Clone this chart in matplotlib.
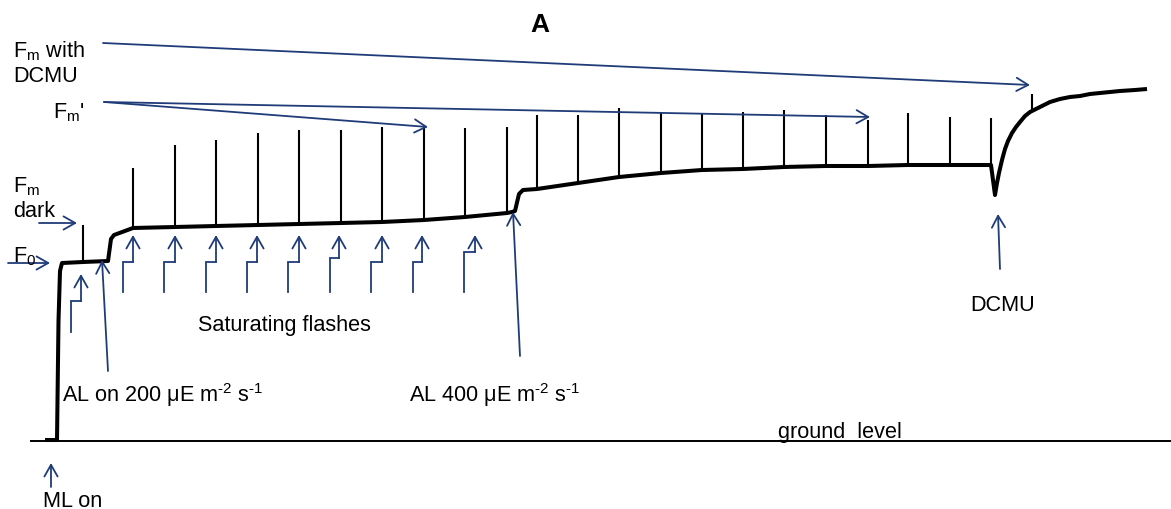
import matplotlib
matplotlib.use("Agg")
import matplotlib.pyplot as plt

plt.rcParams['font.family'] = ['Liberation Sans', 'DejaVu Sans']
plt.rcParams['mathtext.fontset'] = 'custom'
plt.rcParams['mathtext.rm'] = 'Liberation Sans'
plt.rcParams['mathtext.it'] = 'Liberation Sans:italic'
plt.rcParams['mathtext.bf'] = 'Liberation Sans:bold'
plt.rcParams['mathtext.default'] = 'regular'

# ---------------- data (time in arbitrary units, fluorescence in relative units) -------------
# baseline (non-spike) breakpoints of the fluorescence trace
base_t = [45, 57, 58.5, 60, 62, 108, 111, 114, 512, 515, 519, 523,
          995, 997, 999, 1002, 1005, 1008, 1012, 1016, 1020, 1025, 1030,
          1040, 1050, 1060, 1070, 1080, 1090, 1100, 1110, 1120, 1135, 1147]
base_f = [1, 1, 120, 170, 178, 180, 202, 206, 229, 230, 247, 251,
          246, 258, 268, 281, 292, 300, 308, 314, 319, 325, 329,
          334, 339, 342, 344, 345, 347, 348, 349, 350, 351, 352]

# saturating-flash spikes: time, fluorescence at foot, fluorescence at peak
spike_t = [83, 133, 175, 216, 258, 299, 341, 382, 424, 465, 507,
           537, 578, 619, 661, 702, 743, 784, 826, 868, 908, 950, 991, 1032]
spike_base = [179, 213, 214, 215, 216, 217, 218, 219, 221, 224, 228,
              252, 258, 264, 268, 271, 272, 274, 275, 275, 276, 276, 276, 330]
spike_peak = [216, 273, 296, 301, 308, 311, 311, 314, 314, 313, 314,
              326, 326, 333, 329, 328, 329, 331, 326, 321, 328, 324, 323, 347]

# flash marker arrows: bottom x, tip x, bottom y, step y, tip y
flash_x0 = [71, 123, 164, 206, 247, 288, 330, 371, 413, 464]
flash_x1 = [81, 133, 175, 216, 257, 299, 339, 382, 422, 475]
flash_y0 = [109, 149, 149, 149, 149, 149, 149, 149, 149, 149]
flash_ys = [140, 179, 179, 179, 179, 179, 183, 179, 179, 189]
flash_y1 = [167, 206, 206, 206, 206, 206, 206, 206, 206, 206]

NAVY = '#203c78'
FS = 15.6

# ---------------- build trace (baseline through breakpoints and spike feet) ----------------
pts = list(zip(base_t, base_f)) + list(zip(spike_t, spike_base))
pts.sort(key=lambda q: q[0])
tx = [q[0] for q in pts]
ty = [q[1] for q in pts]

fig = plt.figure(figsize=(11.71, 5.10), dpi=100)
ax = fig.add_axes([0, 0, 1, 1])
ax.set_xlim(0, 1171)
ax.set_ylim(-68, 442)
ax.axis('off')

# ground line
ax.plot([30, 1171], [0, 0], color='black', lw=1.4, solid_capstyle='butt')
ax.plot(tx, ty, color='black', lw=2.9, solid_joinstyle='round', solid_capstyle='butt')
ax.vlines(spike_t, spike_base, spike_peak, color='black', lw=1.5)

def arrow(x0, y0, x1, y1):
    ax.annotate('', xy=(x1, y1), xytext=(x0, y0),
                arrowprops=dict(arrowstyle='->,head_length=0.6,head_width=0.34',
                                mutation_scale=14, lw=1.3, color=NAVY,
                                shrinkA=0, shrinkB=0))

# flash step arrows
for x0, x1, y0, ys, y1 in zip(flash_x0, flash_x1, flash_y0, flash_ys, flash_y1):
    ax.plot([x0, x0, x1], [y0, ys, ys], color=NAVY, lw=1.3, solid_joinstyle='miter')
    arrow(x1, ys, x1, y1)

# label arrows
arrow(103, 398, 1030, 356)   # Fm with DCMU
arrow(104, 339, 428, 314)    # Fm'
arrow(104, 339, 870, 324)    # Fm'
arrow(39, 218, 77, 218)      # Fm dark
arrow(8, 178, 50, 178)       # F0
arrow(51, -46, 51, -22)      # ML on
arrow(108, 70, 102, 181)     # AL on 200
arrow(520, 85, 513, 229)     # AL 400
arrow(1000, 172, 998, 227)   # DCMU

# texts
ax.text(540, 410, 'A', fontsize=19, fontweight='bold', ha='center', va='baseline')
ax.text(13, 385, 'F$_{m}$ with', fontsize=FS, va='baseline')
ax.text(13, 360, 'DCMU', fontsize=FS, va='baseline')
ax.text(53, 324, "F$_{m}$'", fontsize=FS, va='baseline')
ax.text(13, 250, 'F$_{m}$', fontsize=FS, va='baseline')
ax.text(13, 225, 'dark', fontsize=FS, va='baseline')
ax.text(13, 180, 'F$_{0}$', fontsize=FS, va='baseline')
ax.text(198, 111, 'Saturating flashes', fontsize=FS, va='baseline')
ax.text(62, 40, 'AL on 200 μE m$^{\u2010 2}$ s$^{\u2010 1}$', fontsize=FS, va='baseline')
ax.text(409, 40, 'AL 400 μE m$^{\u2010 2}$ s$^{\u2010 1}$', fontsize=FS, va='baseline')
ax.text(1003, 131, 'DCMU', fontsize=FS, ha='center', va='baseline')
ax.text(778, 4, 'ground  level', fontsize=FS, va='baseline')
ax.text(43, -65, 'ML on', fontsize=FS, va='baseline')

fig.savefig('out.png', dpi=100)
